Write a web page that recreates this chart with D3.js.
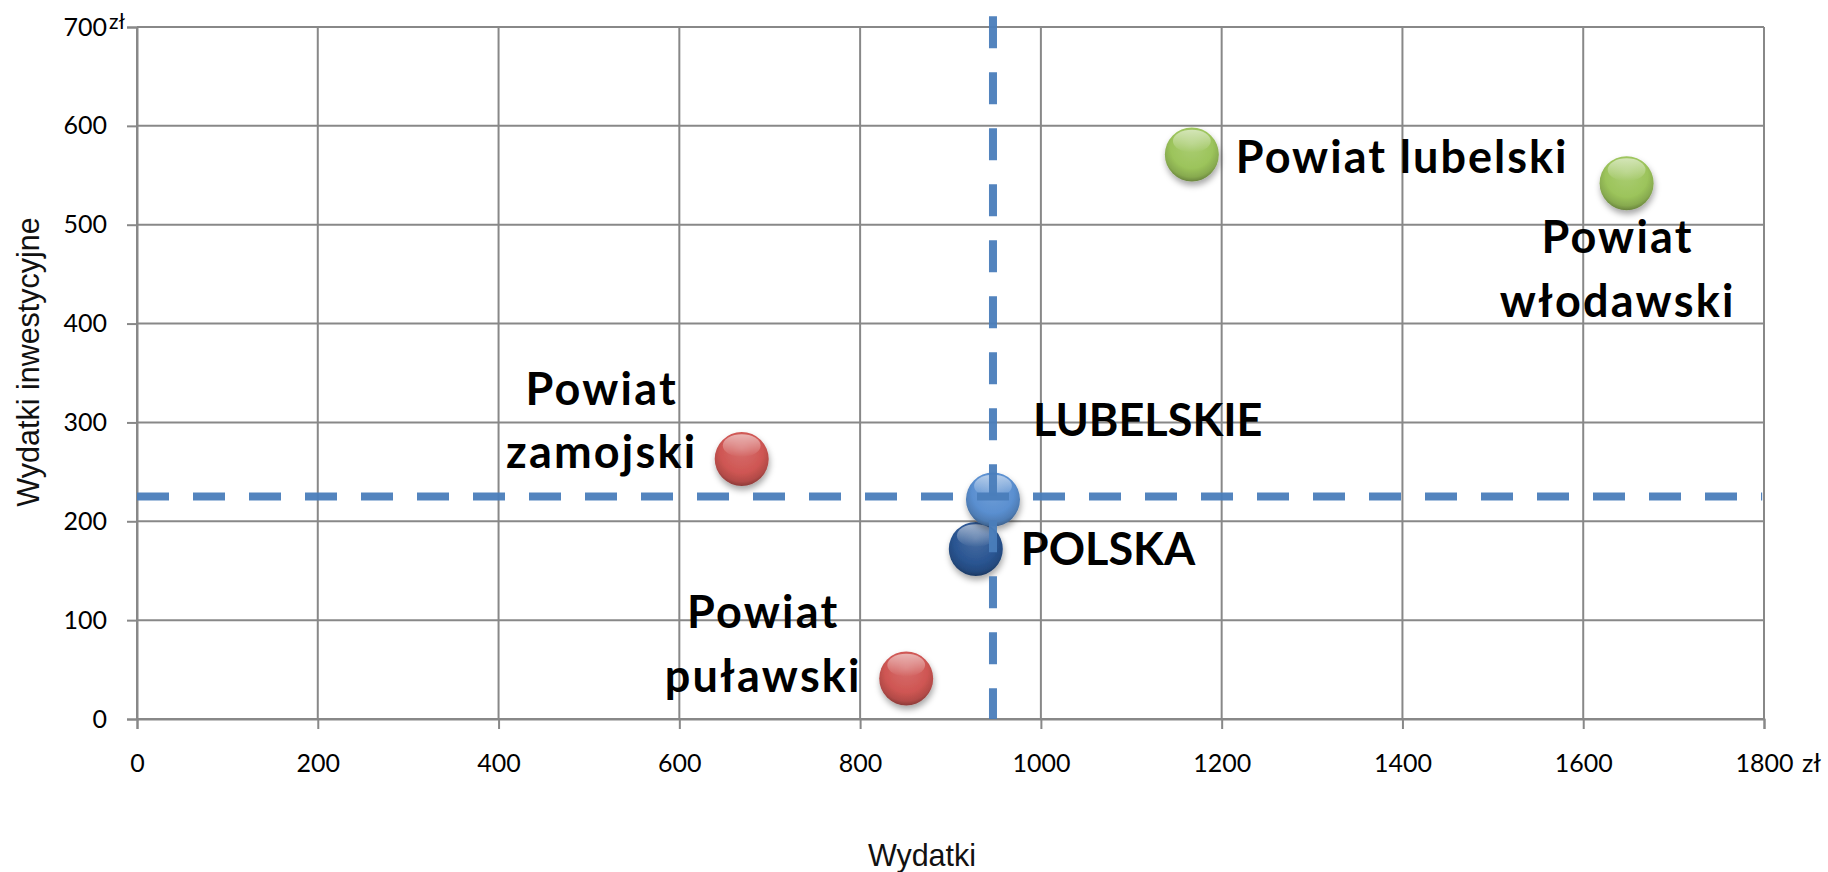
<!DOCTYPE html>
<html lang="pl">
<head>
<meta charset="utf-8">
<title>Wydatki a wydatki inwestycyjne</title>
<script src="https://cdn.jsdelivr.net/npm/d3@7"></script>
<style>
    body { margin: 0; background: #fff; }
    #chart-area { width: 1828px; height: 872px; }
    .tick text { font-family: Lato, "Open Sans", sans-serif; font-size: 25px; fill: #000; }
    .point-label { font-family: Lato, "Open Sans", sans-serif; font-weight: 700; font-size: 45px; fill: #000; }
    .axis-title { font-family: "Liberation Sans", Arial, sans-serif; font-size: 30.5px; fill: #111; }
</style>
</head>
<body>
<div id="chart-area"></div>
<script>
// data
const names = ["POLSKA", "LUBELSKIE", "Powiat lubelski", "Powiat włodawski", "Powiat zamojski", "Powiat puławski"];
const wydatki = [928, 947, 1167, 1648, 669, 851];
const inwestycyjne = [172, 222, 571, 542, 263, 41];
const groups = ["kraj", "wojewodztwo", "wysokie", "wysokie", "niskie", "niskie"];

// reference lines (average for the region)
const refWydatki = 947;
const refInwestycyjne = 225;
const refLineXExtent = [0, 1798];
const refLineYExtent = [0, 711];

const xTicks = [0, 200, 400, 600, 800, 1000, 1200, 1400, 1600, 1800];
const yTicks = [0, 100, 200, 300, 400, 500, 600, 700];

const xTitle = "Wydatki";
const yTitle = "Wydatki inwestycyjne";
const unit = "zł";

class ScatterVis {
    constructor(parentElement) {
        this.parentElement = parentElement;
        this.data = names.map((n, i) => ({
            name: n,
            x: wydatki[i],
            y: inwestycyjne[i],
            group: groups[i]
        }));

        this.initVis();
    }

    initVis() {
        let vis = this;

        vis.margin = {top: 27, right: 64, bottom: 153, left: 137};
        vis.totalWidth = 1828;
        vis.totalHeight = 872;
        vis.width = vis.totalWidth - vis.margin.left - vis.margin.right;
        vis.height = vis.totalHeight - vis.margin.top - vis.margin.bottom;

        vis.svgRoot = d3.select("#" + vis.parentElement).append("svg")
            .attr("width", vis.totalWidth)
            .attr("height", vis.totalHeight);

        vis.svg = vis.svgRoot.append("g")
            .attr("transform", `translate(${vis.margin.left}, ${vis.margin.top})`);

        // colours for the bubbles
        vis.colors = {
            kraj: "#2a5592",
            wojewodztwo: "#5a8fd0",
            wysokie: "#9cc45b",
            niskie: "#cf5653"
        };

        vis.x = d3.scaleLinear().domain([0, 1800]).range([0, vis.width]);
        vis.y = d3.scaleLinear().domain([0, 700]).range([vis.height, 0]);

        // gradients + shadow for the 3d look
        let defs = vis.svgRoot.append("defs");
        Object.keys(vis.colors).forEach(k => {
            let base = d3.color(vis.colors[k]);
            let grad = defs.append("radialGradient")
                .attr("id", "grad-" + k)
                .attr("cx", "50%").attr("cy", "40%").attr("r", "60%")
                .attr("fx", "50%").attr("fy", "30%");
            grad.append("stop").attr("offset", "0%").attr("stop-color", d3.interpolateRgb(base, "#fff")(0.15));
            grad.append("stop").attr("offset", "65%").attr("stop-color", base.formatHex());
            grad.append("stop").attr("offset", "88%").attr("stop-color", base.darker(0.4).formatHex());
            grad.append("stop").attr("offset", "100%").attr("stop-color", base.darker(1.1).formatHex());

            let hl = defs.append("linearGradient")
                .attr("id", "hl-" + k)
                .attr("x1", 0).attr("y1", 0).attr("x2", 0).attr("y2", 1);
            hl.append("stop").attr("offset", "0%").attr("stop-color", "#fff").attr("stop-opacity", 0.55);
            hl.append("stop").attr("offset", "100%").attr("stop-color", "#fff").attr("stop-opacity", 0);
        });

        let shadow = defs.append("filter")
            .attr("id", "shadow")
            .attr("x", "-30%").attr("y", "-30%").attr("width", "160%").attr("height", "170%");
        shadow.append("feDropShadow")
            .attr("dx", 1).attr("dy", 4)
            .attr("stdDeviation", 3)
            .attr("flood-color", "#000")
            .attr("flood-opacity", 0.35);

        vis.wrangleData();
    }

    wrangleData() {
        let vis = this;

        // where each label sits relative to its bubble
        vis.labelLayout = {
            "POLSKA": {anchor: "start", dx: 45, lines: ["POLSKA"], dy: [16], spacing: 0},
            "LUBELSKIE": {anchor: "start", dx: 40, lines: ["LUBELSKIE"], dy: [-64], spacing: 0},
            "Powiat lubelski": {anchor: "start", dx: 44, lines: ["Powiat lubelski"], dy: [18], spacing: 2},
            "Powiat włodawski": {anchor: "middle", dx: -9, lines: ["Powiat", "włodawski"], dy: [70, 134], spacing: 2.2},
            "Powiat zamojski": {anchor: "middle", dx: -140, lines: ["Powiat", "zamojski"], dy: [-54, 9], spacing: 2.2},
            "Powiat puławski": {anchor: "middle", dx: -143, lines: ["Powiat", "puławski"], dy: [-50, 14], spacing: 2.2}
        };

        vis.updateVis();
    }

    updateVis() {
        let vis = this;
        const gridColor = "#888888";

        // gridlines
        vis.svg.append("g")
            .selectAll("line.vgrid")
            .data(xTicks)
            .enter().append("line")
            .attr("class", "vgrid")
            .attr("x1", d => vis.x(d)).attr("x2", d => vis.x(d))
            .attr("y1", 0).attr("y2", vis.height)
            .attr("stroke", gridColor).attr("stroke-width", 2);

        vis.svg.append("g")
            .selectAll("line.hgrid")
            .data(yTicks)
            .enter().append("line")
            .attr("class", "hgrid")
            .attr("x1", 0).attr("x2", vis.width)
            .attr("y1", d => vis.y(d)).attr("y2", d => vis.y(d))
            .attr("stroke", gridColor).attr("stroke-width", 2);

        // axes
        let xAxis = vis.svg.append("g")
            .attr("transform", `translate(0, ${vis.height})`)
            .call(d3.axisBottom(vis.x).tickValues(xTicks).tickSize(10).tickPadding(25).tickFormat(d3.format("d")));

        let yAxis = vis.svg.append("g")
            .call(d3.axisLeft(vis.y).tickValues(yTicks).tickSize(10).tickPadding(20).tickFormat(d3.format("d")));

        [xAxis, yAxis].forEach(a => {
            a.select(".domain").attr("stroke", gridColor).attr("stroke-width", 2);
            a.selectAll(".tick line").attr("stroke", gridColor).attr("stroke-width", 2);
        });

        // unit labels
        vis.svg.append("text")
            .attr("class", "tick-unit")
            .attr("x", -28).attr("y", 2)
            .style("font-family", "Lato, sans-serif")
            .style("font-size", "21px")
            .text(unit);

        vis.svg.append("text")
            .attr("class", "tick-unit")
            .attr("x", vis.x(1800) + 38).attr("y", vis.height + 53)
            .style("font-family", "Lato, sans-serif")
            .style("font-size", "25px")
            .text(unit);

        // axis titles
        vis.svgRoot.append("text")
            .attr("class", "axis-title")
            .attr("x", 922).attr("y", 866)
            .attr("text-anchor", "middle")
            .text(xTitle);

        vis.svgRoot.append("text")
            .attr("class", "axis-title")
            .attr("transform", "translate(39, 362) rotate(-90)")
            .attr("text-anchor", "middle")
            .text(yTitle);

        // bubbles
        const r = 27;
        let bubbles = vis.svg.append("g")
            .selectAll(".bubble")
            .data(vis.data)
            .enter().append("g")
            .attr("class", "bubble")
            .attr("transform", d => `translate(${vis.x(d.x)}, ${vis.y(d.y)})`);

        bubbles.append("circle")
            .attr("r", r)
            .attr("fill", d => `url(#grad-${d.group})`)
            .attr("filter", "url(#shadow)");

        bubbles.append("ellipse")
            .attr("cx", 0).attr("cy", -r * 0.5)
            .attr("rx", r * 0.7).attr("ry", r * 0.42)
            .attr("fill", d => `url(#hl-${d.group})`);

        // dashed reference lines
        const dashColor = "#4a7ebb";
        vis.svg.append("line")
            .attr("x1", vis.x(refWydatki)).attr("x2", vis.x(refWydatki))
            .attr("y1", vis.y(refLineYExtent[1])).attr("y2", vis.y(refLineYExtent[0]))
            .attr("stroke", dashColor).attr("stroke-width", 8)
            .attr("stroke-dasharray", "32 24")
            .attr("opacity", 0.95);

        vis.svg.append("line")
            .attr("x1", vis.x(refLineXExtent[0])).attr("x2", vis.x(refLineXExtent[1]))
            .attr("y1", vis.y(refInwestycyjne)).attr("y2", vis.y(refInwestycyjne))
            .attr("stroke", dashColor).attr("stroke-width", 8)
            .attr("stroke-dasharray", "32 24")
            .attr("opacity", 0.95);

        // labels
        let labels = vis.svg.append("g")
            .selectAll(".point-label")
            .data(vis.data)
            .enter().append("text")
            .attr("class", "point-label")
            .attr("text-anchor", d => vis.labelLayout[d.name].anchor)
            .style("letter-spacing", d => vis.labelLayout[d.name].spacing + "px");

        labels.selectAll("tspan")
            .data(d => vis.labelLayout[d.name].lines.map((t, i) => ({
                text: t,
                px: vis.x(d.x) + vis.labelLayout[d.name].dx,
                py: vis.y(d.y) + vis.labelLayout[d.name].dy[i]
            })))
            .enter().append("tspan")
            .attr("x", d => d.px)
            .attr("y", d => d.py)
            .text(d => d.text);
    }
}

new ScatterVis("chart-area");
</script>
</body>
</html>
